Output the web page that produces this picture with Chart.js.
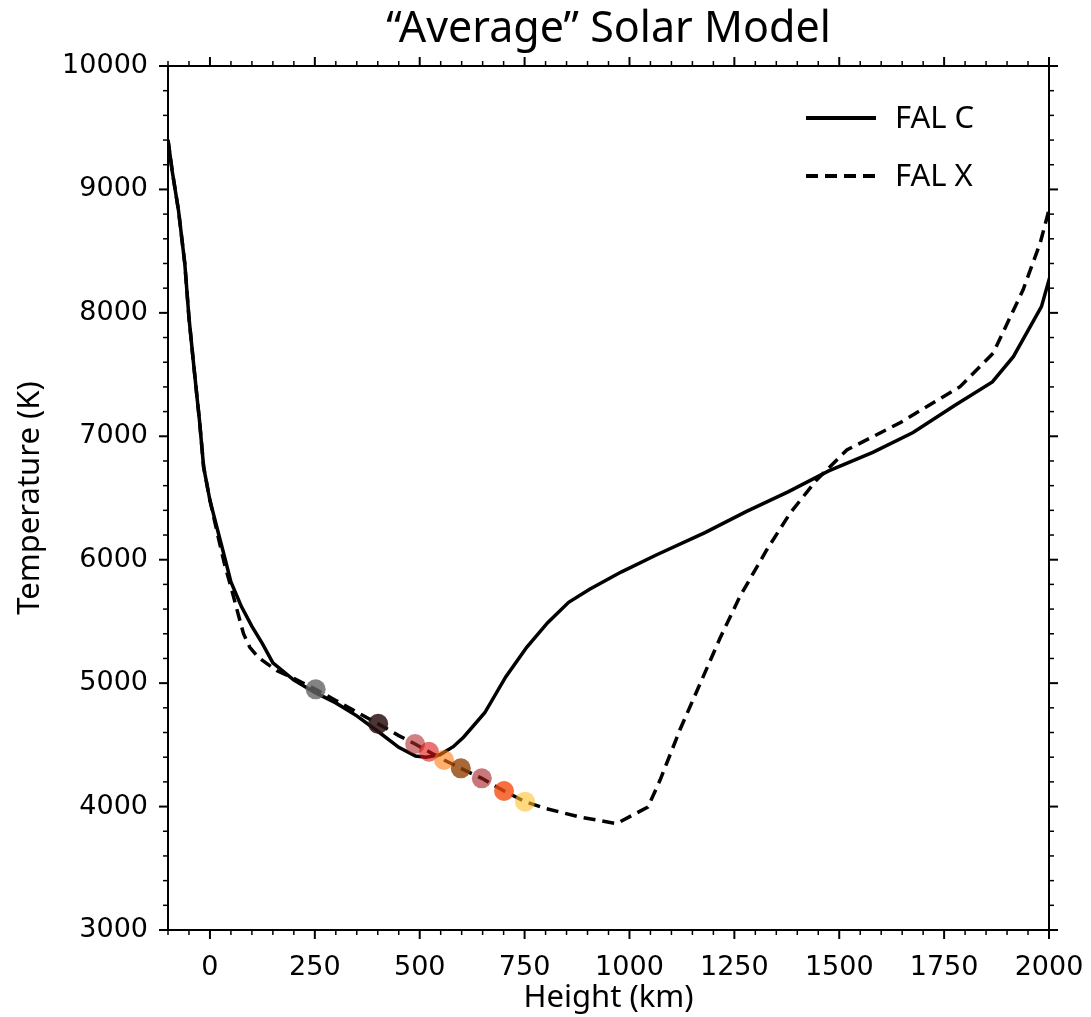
<!DOCTYPE html>
<html>
<head>
<meta charset="utf-8">
<script src="https://cdn.jsdelivr.net/npm/chart.js@4.4.1/dist/chart.umd.min.js"></script>
<style>
  body { margin: 0; background: #fff; }
</style>
</head>
<body>
<canvas id="solarChart" width="1091" height="1017"></canvas>
<script>
// FAL C model (solid)
const falcHeight = [-100, -90, -75, -60, -50, -40, -30, -25, -15, 0, 20, 35, 50, 75, 100, 125, 150, 200, 250, 300, 350, 400, 450, 490, 515, 548, 580, 605, 655, 705, 755, 805, 855, 905, 980, 1065, 1180, 1278, 1378, 1475, 1580, 1676, 1775, 1865, 1915, 1982, 2016];
const falcTemp = [9400, 9150, 8830, 8400, 7960, 7620, 7290, 7130, 6750, 6480, 6216, 6020, 5820, 5620, 5460, 5320, 5165, 5025, 4925, 4840, 4735, 4610, 4480, 4410, 4400, 4420, 4485, 4564, 4760, 5050, 5290, 5490, 5655, 5760, 5900, 6040, 6220, 6390, 6550, 6720, 6870, 7030, 7250, 7440, 7645, 8050, 8460];

// FAL X model (dashed)
const falxHeight = [-100, -90, -75, -60, -50, -40, -30, -25, -15, 0, 20, 35, 50, 64, 80, 95, 115, 135, 160, 199, 252, 300, 350, 401, 450, 489, 522, 558, 598, 648, 701, 751, 800, 882, 969, 1044, 1073, 1120, 1216, 1263, 1327, 1383, 1446, 1518, 1645, 1788, 1867, 1938, 1979, 1998, 2010];
const falxTemp = [9400, 9150, 8830, 8400, 7960, 7620, 7290, 7130, 6750, 6480, 6180, 5960, 5780, 5600, 5400, 5290, 5210, 5160, 5100, 5040, 4950, 4860, 4765, 4670, 4575, 4507, 4444, 4377, 4310, 4229, 4126, 4040, 3985, 3915, 3862, 3996, 4215, 4620, 5366, 5700, 6079, 6378, 6646, 6889, 7110, 7402, 7674, 8185, 8566, 8809, 9000];

// coloured markers along FAL X
const markerHeight = [252, 401, 489, 522, 558, 598, 648, 701, 751];
const markerTemp = [4950, 4670, 4507, 4444, 4377, 4310, 4229, 4126, 4040];
const markerColors = [
    'rgba(100, 100, 100, 0.8)',
    'rgba(45, 18, 18, 0.85)',
    'rgba(177, 43, 43, 0.6)',
    'rgba(220, 20, 20, 0.6)',
    'rgba(255, 123, 17, 0.6)',
    'rgba(146, 66, 6, 0.8)',
    'rgba(163, 30, 30, 0.6)',
    'rgba(246, 76, 16, 0.8)',
    'rgba(255, 190, 43, 0.6)'
];

const xTicks = [0, 250, 500, 750, 1000, 1250, 1500, 1750, 2000];
const yTicks = [3000, 4000, 5000, 6000, 7000, 8000, 9000, 10000];
const xMinorStep = 50;
const yMinorStep = 200;

const dashPattern = [12, 7];
const legendItems = [
    { label: 'FAL C', dash: [] },
    { label: 'FAL X', dash: dashPattern }
];

const toPoints = (xs, ys) => xs.map((x, i) => ({ x: x, y: ys[i] }));

// frame + matplotlib-style outward ticks on all four sides, plus legend
const frameTicks = {
    id: 'frameTicks',
    afterDraw(chart) {
        const ctx = chart.ctx;
        const a = chart.chartArea;
        const xs = chart.scales.x;
        const ys = chart.scales.y;
        ctx.save();
        ctx.strokeStyle = '#000';
        ctx.lineWidth = 2;
        ctx.strokeRect(a.left, a.top, a.right - a.left, a.bottom - a.top);

        const tick = (x1, y1, x2, y2, w) => {
            ctx.lineWidth = w;
            ctx.beginPath();
            ctx.moveTo(x1, y1);
            ctx.lineTo(x2, y2);
            ctx.stroke();
        };
        const majorLen = 9, minorLen = 5;

        for (let v = xs.min; v <= xs.max; v += xMinorStep) {
            const major = xTicks.includes(v);
            const len = major ? majorLen : minorLen;
            const w = major ? 2 : 1.5;
            const px = xs.getPixelForValue(v);
            tick(px, a.bottom, px, a.bottom + len, w);
            tick(px, a.top, px, a.top - len, w);
        }
        for (let v = ys.min; v <= ys.max; v += yMinorStep) {
            const major = yTicks.includes(v);
            const len = major ? majorLen : minorLen;
            const w = major ? 2 : 1.5;
            const py = ys.getPixelForValue(v);
            tick(a.left, py, a.left - len, py, w);
            tick(a.right, py, a.right + len, py, w);
        }

        // legend, upper right
        ctx.font = '31px "Noto Sans"';
        ctx.fillStyle = '#000';
        ctx.textBaseline = 'middle';
        legendItems.forEach((item, i) => {
            const y = a.top + 52 + i * 58;
            ctx.lineWidth = 4;
            ctx.setLineDash(item.dash);
            ctx.beginPath();
            ctx.moveTo(a.right - 243, y);
            ctx.lineTo(a.right - 173, y);
            ctx.stroke();
            ctx.setLineDash([]);
            ctx.fillText(item.label, a.right - 154, y + 1);
        });
        ctx.restore();
    }
};

const ctx = document.getElementById('solarChart').getContext('2d');

window.solarChart = new Chart(ctx, {
    type: 'line',
    data: {
        datasets: [{
            label: 'markers',
            type: 'scatter',
            data: toPoints(markerHeight, markerTemp),
            pointRadius: 10,
            pointBackgroundColor: markerColors,
            pointBorderWidth: 0,
            showLine: false,
            order: 0,
            clip: false
        }, {
            label: 'FAL C',
            data: toPoints(falcHeight, falcTemp),
            borderColor: '#000',
            borderWidth: 3.5,
            pointRadius: 0,
            tension: 0,
            fill: false,
            order: 1,
            clip: 0
        }, {
            label: 'FAL X',
            data: toPoints(falxHeight, falxTemp),
            borderColor: '#000',
            borderWidth: 3.5,
            borderDash: dashPattern,
            pointRadius: 0,
            tension: 0,
            fill: false,
            order: 2,
            clip: 0
        }]
    },
    options: {
        responsive: false,
        animation: false,
        devicePixelRatio: 1,
        layout: {
            padding: { left: 0, right: 42, top: 0, bottom: 0 }
        },
        plugins: {
            legend: { display: false },
            tooltip: { enabled: false },
            title: {
                display: true,
                fullSize: false,
                text: '\u201CAverage\u201D Solar Model',
                color: '#000',
                font: { family: 'Noto Sans', size: 43, weight: 'normal' },
                padding: { top: 4, bottom: 10.4 }
            }
        },
        scales: {
            x: {
                type: 'linear',
                min: -100,
                max: 2000,
                afterBuildTicks: s => { s.ticks = xTicks.map(v => ({ value: v })); },
                afterFit: s => { s.height = 87; s.paddingLeft = 0; s.paddingRight = 0; },
                grid: { display: false },
                border: { display: false },
                ticks: {
                    color: '#000',
                    font: { family: 'DejaVu Sans', size: 27 },
                    padding: 14,
                    maxRotation: 0,
                    autoSkip: false,
                    callback: v => String(v)
                },
                title: {
                    display: true,
                    text: 'Height (km)',
                    color: '#000',
                    font: { family: 'Noto Sans', size: 31 },
                    padding: { top: 0, bottom: 0 }
                }
            },
            y: {
                type: 'linear',
                min: 3000,
                max: 10000,
                afterBuildTicks: s => { s.ticks = yTicks.map(v => ({ value: v })); },
                afterFit: s => { s.width = 168; s.paddingTop = 0; s.paddingBottom = 0; },
                grid: { display: false },
                border: { display: false },
                ticks: {
                    color: '#000',
                    font: { family: 'DejaVu Sans', size: 27 },
                    padding: 12,
                    autoSkip: false,
                    callback: v => String(v)
                },
                title: {
                    display: true,
                    text: 'Temperature (K)',
                    color: '#000',
                    font: { family: 'Noto Sans', size: 31 },
                    padding: { top: 11.5, bottom: 0 }
                }
            }
        }
    },
    plugins: [frameTicks]
});
</script>
</body>
</html>
